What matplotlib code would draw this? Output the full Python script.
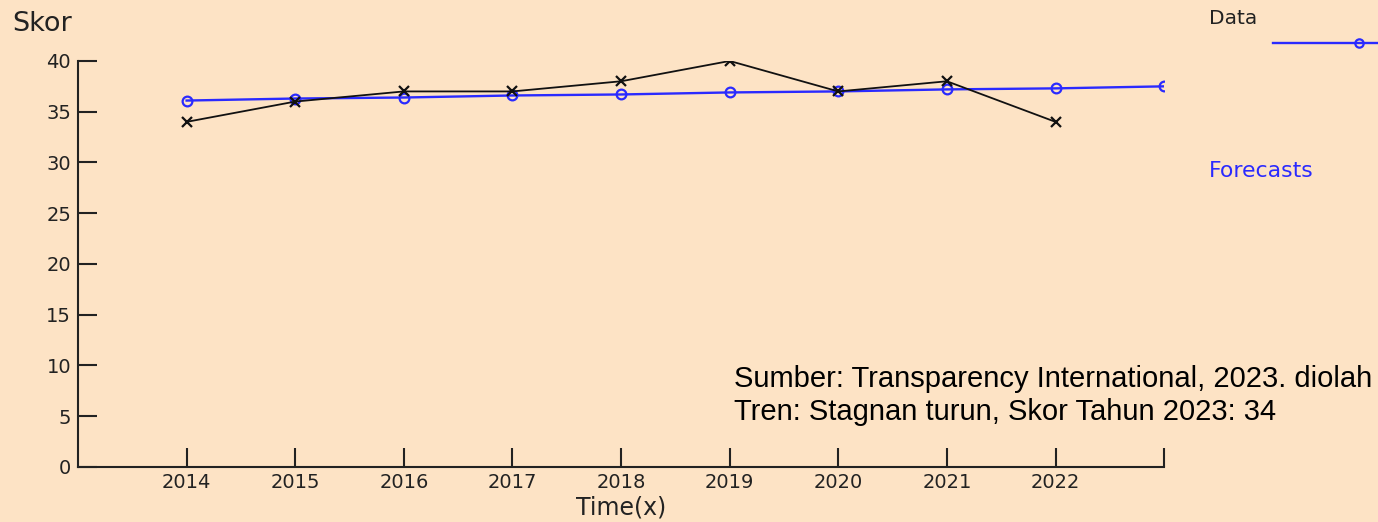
import matplotlib.pyplot as plt
from matplotlib.lines import Line2D

years = [2014, 2015, 2016, 2017, 2018, 2019, 2020, 2021, 2022]
skor = [34, 36, 37, 37, 38, 40, 37, 38, 34]

fc_years = [2014, 2015, 2016, 2017, 2018, 2019, 2020, 2021, 2022, 2023]
forecast = [36.1, 36.3, 36.4, 36.6, 36.7, 36.9, 37.0, 37.2, 37.3, 37.5]

x_ticks = [2014, 2015, 2016, 2017, 2018, 2019, 2020, 2021, 2022, 2023]
x_labels = ['2014', '2015', '2016', '2017', '2018', '2019', '2020', '2021', '2022', '']
y_ticks = [0, 5, 10, 15, 20, 25, 30, 35, 40]

bg = '#FDE3C5'
blue = '#2A2AFF'
ink = '#222222'
plt.rcParams['font.family'] = ['DejaVu Sans']


def main():
    fig = plt.figure(figsize=(13.78, 5.22), dpi=100, facecolor=bg)
    ax = fig.add_axes([0.0566, 0.1054, 0.7882, 0.7778], facecolor=bg)

    ax.plot(fc_years, forecast, color=blue, lw=1.7, marker='o', ms=7,
            mfc='none', mec=blue, mew=1.6, zorder=3)
    ax.plot(years, skor, color='#111111', lw=1.3, marker='x', ms=7.5,
            mew=1.6, zorder=4)

    ax.set_xlim(2013, 2023)
    ax.set_ylim(0, 40)
    ax.set_xticks(x_ticks)
    ax.set_xticklabels(x_labels)
    ax.set_yticks(y_ticks)
    for s in ['top', 'right']:
        ax.spines[s].set_visible(False)
    for s in ['left', 'bottom']:
        ax.spines[s].set_linewidth(1.5)
        ax.spines[s].set_color(ink)
    ax.tick_params(direction='in', length=14, width=1.5, color=ink,
                   labelsize=14, labelcolor=ink)
    ax.tick_params(axis='x', pad=4)
    ax.tick_params(axis='y', pad=5)
    ax.set_xlabel('Time(x)', fontsize=17, color=ink, labelpad=3)

    fig.text(0.009, 0.9406, 'Skor', fontsize=19.5, color=ink, va='baseline')

    # legend
    fig.text(0.877, 0.954, 'Data', fontsize=14.5, color=ink, va='baseline')
    fig.add_artist(Line2D([0.9238, 1.0], [0.9176, 0.9176], color=blue, lw=1.7,
                          transform=fig.transFigure))
    fig.add_artist(Line2D([0.9862], [0.9176], color=blue, marker='o', ms=6,
                          mfc='none', mew=1.6, transform=fig.transFigure))
    fig.text(0.877, 0.661, 'Forecasts', fontsize=15.8, color=blue, va='baseline')

    fig.text(0.533, 0.2586, 'Sumber: Transparency International, 2023. diolah',
             fontsize=21, color='black', va='baseline', family='Liberation Sans')
    fig.text(0.533, 0.1954, 'Tren: Stagnan turun, Skor Tahun 2023: 34',
             fontsize=21, color='black', va='baseline', family='Liberation Sans')

    fig.savefig('out.png', dpi=100, facecolor=bg)


if __name__ == "__main__":
    main()
